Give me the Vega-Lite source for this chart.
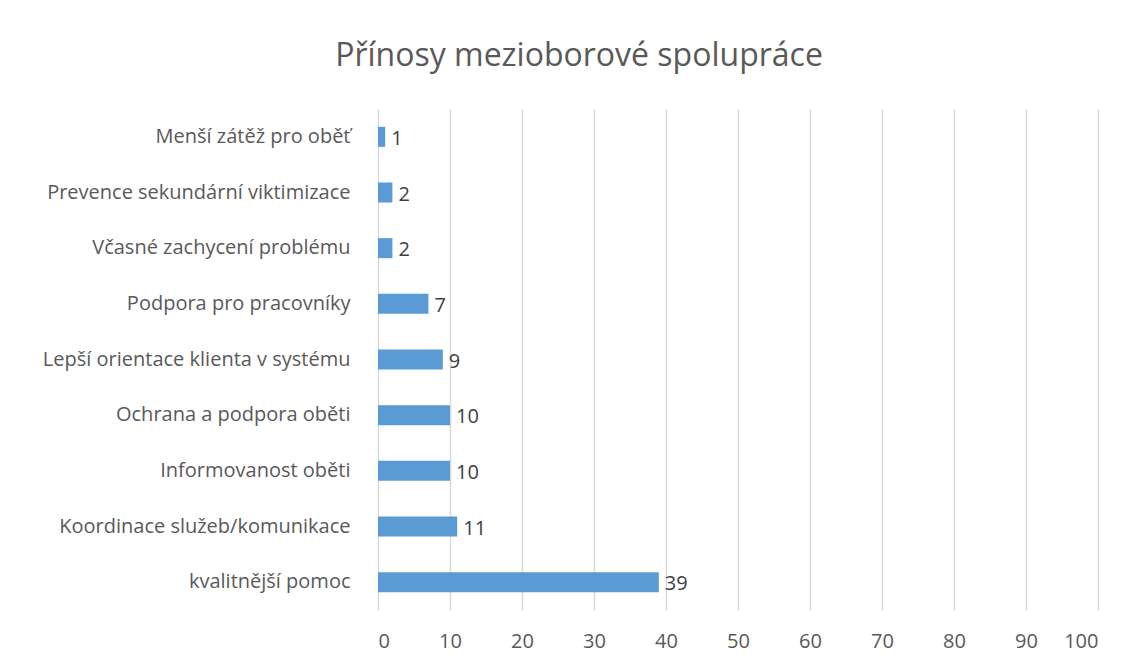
{
  "$schema": "https://vega.github.io/schema/vega-lite/v6.json",
  "width": 720,
  "height": 501,
  "autosize": {"type": "none"},
  "padding": {"left": 378, "top": 109, "right": 36, "bottom": 53},
  "background": "white",
  "title": {
    "text": "Přínosy mezioborové spolupráce",
    "font": "Open Sans",
    "fontSize": 32,
    "fontWeight": "normal",
    "color": "#595959",
    "anchor": "middle",
    "dx": -159,
    "offset": 36
  },
  "data": {
    "values": [
      {"kategorie": "Menší zátěž pro oběť", "pocet": 1},
      {"kategorie": "Prevence sekundární viktimizace", "pocet": 2},
      {"kategorie": "Včasné zachycení problému", "pocet": 2},
      {"kategorie": "Podpora pro pracovníky", "pocet": 7},
      {"kategorie": "Lepší orientace klienta v systému", "pocet": 9},
      {"kategorie": "Ochrana a podpora oběti", "pocet": 10},
      {"kategorie": "Informovanost oběti", "pocet": 10},
      {"kategorie": "Koordinace služeb/komunikace", "pocet": 11},
      {"kategorie": "kvalitnější pomoc", "pocet": 39}
    ]
  },
  "encoding": {
    "y": {
      "field": "kategorie",
      "type": "nominal",
      "sort": null,
      "scale": {"paddingInner": 0.64, "paddingOuter": 0.32},
      "axis": {
        "title": null,
        "domain": false,
        "ticks": false,
        "labelPadding": 28,
        "labelFont": "Open Sans",
        "labelFontSize": 20,
        "labelColor": "#595959",
        "labelLimit": 400
      }
    },
    "x": {
      "field": "pocet",
      "type": "quantitative",
      "scale": {"domain": [0, 100], "nice": false},
      "axis": {
        "title": null,
        "values": [0, 10, 20, 30, 40, 50, 60, 70, 80, 90, 100],
        "domain": false,
        "ticks": false,
        "grid": true,
        "gridColor": "#d9d9d9",
        "gridWidth": 1.5,
        "labelPadding": 21,
        "labelFont": "Open Sans",
        "labelFontSize": 20,
        "labelColor": "#595959"
      }
    }
  },
  "layer": [
    {"mark": {"type": "bar", "color": "#5b9bd5"}},
    {
      "mark": {"type": "text", "align": "left", "baseline": "middle", "dx": 6, "dy": 2, "font": "Open Sans", "fontSize": 20, "color": "#404040"},
      "encoding": {"text": {"field": "pocet", "type": "quantitative"}}
    }
  ],
  "config": {"view": {"stroke": null}}
}
